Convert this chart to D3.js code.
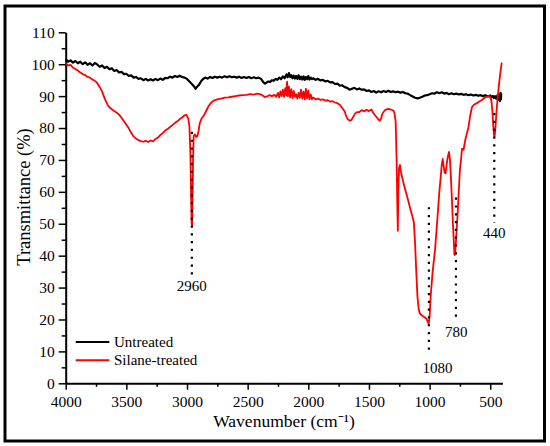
<!DOCTYPE html>
<html><head><meta charset="utf-8">
<script src="https://cdn.jsdelivr.net/npm/d3@7"></script>
<style>body{margin:0;background:#fff}svg{display:block}</style>
</head><body>
<svg id="c" width="550" height="446"></svg>
<script>
// ---- data ----
const seriesNames = ["Untreated", "Silane-treated"];
const seriesColors = ["#000000", "#ff0000"];
const xTicks = [4000, 3500, 3000, 2500, 2000, 1500, 1000, 500];
const yTicks = [0, 10, 20, 30, 40, 50, 60, 70, 80, 90, 100, 110];

const untreated = [
[4000,101.5],[3980,100.8],[3960,101.2],[3940,100.5],[3920,101.0],[3900,100.3],[3880,100.8],[3860,100.0],[3840,100.6],[3820,99.8],
[3800,100.3],[3780,99.6],[3760,100.4],[3740,99.9],[3720,99.2],[3700,99.6],[3680,98.8],[3660,99.2],[3640,98.4],[3620,98.7],
[3600,97.9],[3580,98.2],[3560,97.4],[3540,97.6],[3520,96.9],[3500,97.0],[3480,96.3],[3460,96.5],[3440,95.8],[3420,96.0],
[3400,95.4],[3380,95.6],[3360,95.0],[3340,95.4],[3320,94.9],[3300,95.3],[3280,94.9],[3260,95.4],[3240,95.0],[3220,95.5],
[3200,95.1],[3180,95.7],[3160,95.6],[3140,96.1],[3120,95.8],[3100,96.3],[3080,96.0],[3060,96.4],[3040,96.0],[3020,95.8],
[3000,95.4],[2980,94.6],[2960,93.8],[2945,93.2],[2930,92.3],[2915,93.0],[2900,93.6],[2885,94.6],[2870,95.3],[2850,95.8],
[2830,95.5],[2810,96.0],[2790,95.7],[2770,96.1],[2750,95.8],[2730,96.1],[2710,95.8],[2690,96.2],[2670,95.9],[2650,96.2],
[2630,95.9],[2610,96.1],[2590,95.8],[2570,96.1],[2550,95.7],[2530,96.0],[2510,95.7],[2490,96.0],[2470,95.6],[2450,95.9],
[2430,95.6],[2410,95.8],[2390,95.4],[2375,94.6],[2360,93.9],[2345,94.2],[2330,94.6],[2315,94.4],[2300,95.0],[2285,94.8],
[2270,95.4],[2255,95.1],[2240,95.8],[2225,95.3],[2210,96.2],[2195,95.6],[2180,96.8],[2170,95.9],[2160,97.2],[2150,96.0],
[2140,96.6],[2130,95.6],[2120,96.4],[2110,95.5],[2100,96.3],[2090,95.4],[2080,96.5],[2070,95.3],[2060,96.1],[2050,95.2],
[2040,96.2],[2030,95.1],[2020,96.0],[2010,95.3],[2000,96.3],[1990,95.2],[1980,95.8],[1970,95.3],[1960,95.6],[1940,95.1],
[1920,95.4],[1900,94.9],[1880,95.1],[1860,94.6],[1840,94.8],[1820,94.3],[1800,94.4],[1780,93.8],[1760,93.9],[1740,93.3],
[1720,93.4],[1700,92.8],[1680,92.6],[1660,92.0],[1640,92.3],[1620,92.6],[1600,92.1],[1580,92.4],[1560,92.0],[1540,92.1],
[1520,91.6],[1500,91.8],[1480,91.3],[1460,91.6],[1440,91.1],[1420,91.5],[1400,91.2],[1380,91.6],[1360,91.3],[1340,91.7],
[1320,91.3],[1300,91.5],[1280,91.2],[1260,91.4],[1240,91.1],[1220,91.3],[1200,90.9],[1180,90.8],[1160,90.3],[1140,89.9],
[1120,89.5],[1100,89.3],[1080,89.5],[1060,89.8],[1040,90.2],[1020,90.3],[1000,90.6],[980,90.9],[960,90.8],[940,91.2],
[920,90.9],[900,91.2],[880,90.8],[860,91.0],[840,90.6],[820,90.9],[800,90.6],[780,90.8],[760,90.5],[740,90.7],
[720,90.4],[700,90.6],[680,90.3],[660,90.5],[640,90.2],[620,90.4],[600,90.1],[580,90.3],[560,90.0],[540,90.3],
[520,89.9],[500,90.2],[490,89.6],[480,90.1],[470,89.4],[460,90.0],[450,89.2],[440,90.3],[430,88.8],[425,90.5],
[420,88.5],[415,91.0],[412,89.0],[410,90.8]
];

const silane = [
[4000,100.2],[3980,99.6],[3960,99.8],[3940,98.9],[3920,98.5],[3900,98.0],[3880,97.4],[3860,96.9],[3840,96.6],[3820,96.0],
[3800,95.8],[3780,95.2],[3760,94.8],[3745,94.3],[3730,93.5],[3715,92.5],[3700,91.5],[3685,89.9],[3670,88.5],[3655,87.3],
[3640,86.5],[3620,85.9],[3600,85.3],[3580,84.8],[3560,84.2],[3540,83.2],[3520,82.1],[3500,81.0],[3480,79.9],[3460,78.5],
[3440,77.3],[3420,76.7],[3400,76.2],[3380,75.9],[3360,75.7],[3340,76.0],[3320,75.6],[3300,76.1],[3280,75.8],[3260,76.5],
[3240,77.0],[3220,77.8],[3200,78.4],[3180,79.2],[3160,79.7],[3140,80.3],[3120,80.9],[3100,81.6],[3080,82.1],[3060,82.8],
[3040,83.3],[3020,84.0],[3005,84.1],[2990,83.0],[2980,80.5],[2972,72],[2966,58],[2962,50],[2958,49.5],[2955,55],
[2950,70],[2945,77.5],[2935,78.0],[2925,77.2],[2915,77.5],[2905,79.0],[2895,81.5],[2880,83.0],[2860,84.0],[2840,85.5],
[2820,87.0],[2800,88.0],[2780,88.6],[2750,89.0],[2720,89.2],[2690,89.5],[2660,89.6],[2630,89.8],[2600,90.0],[2570,90.2],
[2540,90.3],[2510,90.4],[2480,90.6],[2450,90.5],[2420,90.8],[2400,90.6],[2380,90.3],[2360,89.7],[2340,89.9],[2320,90.3],
[2300,90.0],[2280,90.4],[2265,89.8],[2250,91.0],[2240,89.6],[2230,91.5],[2220,90.0],[2210,92.0],[2200,89.8],[2190,92.5],
[2182,90.2],[2175,94.5],[2168,90.0],[2160,93.0],[2150,89.6],[2140,92.2],[2130,89.4],[2120,91.6],[2110,89.8],[2100,90.6],
[2090,89.2],[2080,91.0],[2070,89.5],[2060,92.0],[2050,89.2],[2040,91.4],[2030,89.0],[2020,92.3],[2010,89.3],[2000,91.8],
[1990,89.0],[1980,90.5],[1970,89.0],[1960,89.6],[1940,89.0],[1920,89.2],[1900,88.8],[1880,89.0],[1860,88.6],[1840,88.7],
[1820,88.3],[1800,88.4],[1780,88.0],[1760,87.8],[1740,87.3],[1720,86.3],[1700,85.2],[1690,84.0],[1675,82.8],[1660,82.3],
[1645,82.5],[1630,83.5],[1615,84.5],[1600,85.0],[1580,85.0],[1560,85.6],[1540,85.2],[1520,85.7],[1500,85.3],[1480,85.8],
[1465,84.8],[1450,84.0],[1435,83.3],[1420,82.6],[1410,82.3],[1400,83.0],[1390,84.4],[1375,85.3],[1360,85.8],[1340,86.0],
[1320,85.8],[1300,85.5],[1290,84.8],[1280,82.0],[1272,70],[1266,55],[1262,47.8],[1258,60],[1252,67.5],[1244,68.4],
[1235,66.0],[1220,63.5],[1200,60.6],[1180,57.8],[1160,54.8],[1140,52.0],[1130,50.5],[1120,44],[1110,35],[1100,27],
[1090,23.2],[1080,21.9],[1065,21.3],[1045,20.8],[1028,20.3],[1015,19.3],[1008,18.6],[1000,21],[990,28],[975,35],
[955,42],[935,52],[920,60],[910,64],[900,68.5],[892,70.3],[884,68.0],[876,66.0],[868,65.8],[860,68.5],
[850,71.0],[840,72.5],[832,70.0],[825,65.0],[816,57.5],[808,50],[800,44],[795,40.2],[790,40.5],[782,45.0],
[770,52.5],[760,60],[750,67],[740,70.5],[733,73.5],[720,73.2],[706,76.3],[695,78.0],[679,80.4],[665,84.0],
[651,86.5],[635,87.3],[610,87.8],[590,88.3],[569,88.8],[550,89.4],[528,89.8],[510,90.0],[500,89.6],[490,88.5],
[482,85],[475,80.5],[470,78.0],[465,77.3],[460,78.8],[455,81.5],[448,85.5],[440,89.0],[430,93.0],[424,95.0],
[415,98.0],[405,100.5]
];

// peak annotations: label, wavenumber of the dotted line, line top/bottom (%), label anchor
const peakLabels = ["2960", "1080", "780", "440"];
const peakLineWn = [2960, 1006, 783, 467];
const peakLineTop = [78.8, 55.2, 58.2, 84.7];
const peakLineBottom = [34.0, 10.4, 19.8, 50.3];
const peakLabelWn = [2960, 935, 780, 467];
const peakLabelT = [28.9, 3.2, 14.4, 45.5];

// ---- drawing ----
const svg = d3.select("#c");
const font = "'Liberation Serif','Times New Roman',serif";
const M = {left: 65.7, right: 502.4, top: 32.3, bottom: 383.3};

const x = d3.scaleLinear().domain([4000, 400]).range([M.left, M.right]);
const y = d3.scaleLinear().domain([0, 110]).range([M.bottom, M.top]);

// outer frame
svg.append("rect").attr("x", 5).attr("y", 6).attr("width", 539.5).attr("height", 435)
  .attr("fill", "none").attr("stroke", "#000").attr("stroke-width", 3);

// minor ticks
const xMinor = d3.range(4000, 399, -250).filter(v => v % 500 !== 0);
const yMinor = d3.range(5, 110, 10);
svg.append("g").attr("transform", `translate(0,${M.bottom})`)
  .call(d3.axisBottom(x).tickValues(xMinor).tickSize(3.5).tickFormat(""))
  .call(g => g.select(".domain").remove())
  .call(g => g.selectAll("line").attr("stroke-width", 1.5));
svg.append("g").attr("transform", `translate(${M.left},0)`)
  .call(d3.axisLeft(y).tickValues(yMinor).tickSize(4).tickFormat(""))
  .call(g => g.select(".domain").remove())
  .call(g => g.selectAll("line").attr("stroke-width", 1.5));

// major axes
const xAxis = svg.append("g").attr("transform", `translate(0,${M.bottom})`)
  .call(d3.axisBottom(x).tickValues(xTicks).tickSize(6.5).tickPadding(6.5).tickSizeOuter(0).tickFormat(d3.format("d")));
const yAxis = svg.append("g").attr("transform", `translate(${M.left},0)`)
  .call(d3.axisLeft(y).tickValues(yTicks).tickSize(7).tickPadding(4).tickSizeOuter(0));
[xAxis, yAxis].forEach(g => {
  g.select(".domain").attr("stroke-width", 2);
  g.selectAll(".tick line").attr("stroke-width", 1.5);
  g.selectAll("text").attr("font-family", font).attr("font-size", 15.5).attr("fill", "#000");
});

// axis titles
svg.append("text").attr("x", 284).attr("y", 426.5).attr("text-anchor", "middle")
  .attr("font-family", font).attr("font-size", 17.5).text("Wavenumber (cm\u207B\u00B9)");
svg.append("text").attr("transform", "translate(24,197) rotate(-90)").attr("text-anchor", "middle")
  .attr("dy", "0.35em").attr("font-family", font).attr("font-size", 18.5).text("Transmittance (%)");

// curves
const line = d3.line().x(d => x(d[0])).y(d => y(d[1]));
const allSeries = [untreated, silane];
allSeries.forEach((s, i) => {
  svg.append("path").datum(s).attr("d", line).attr("fill", "none")
    .attr("stroke", seriesColors[i]).attr("stroke-width", i === 0 ? 2.2 : 1.8)
    .attr("stroke-linejoin", "round");
});

// peak annotations
peakLabels.forEach((lab, i) => {
  svg.append("line")
    .attr("x1", x(peakLineWn[i])).attr("x2", x(peakLineWn[i]))
    .attr("y1", y(peakLineTop[i])).attr("y2", y(peakLineBottom[i]))
    .attr("stroke", "#000").attr("stroke-width", 2.2).attr("stroke-dasharray", "2.2,5.6");
  svg.append("text").attr("x", x(peakLabelWn[i])).attr("y", y(peakLabelT[i]))
    .attr("text-anchor", "middle").attr("font-family", font).attr("font-size", 15).text(lab);
});

// legend
const legY = [342, 360.3];
seriesNames.forEach((n, i) => {
  svg.append("line").attr("x1", 75.7).attr("x2", 109.3).attr("y1", legY[i]).attr("y2", legY[i])
    .attr("stroke", seriesColors[i]).attr("stroke-width", 2);
  svg.append("text").attr("x", 114).attr("y", legY[i]).attr("dy", "0.33em")
    .attr("font-family", font).attr("font-size", 15).text(n);
});
</script>
</body></html>
